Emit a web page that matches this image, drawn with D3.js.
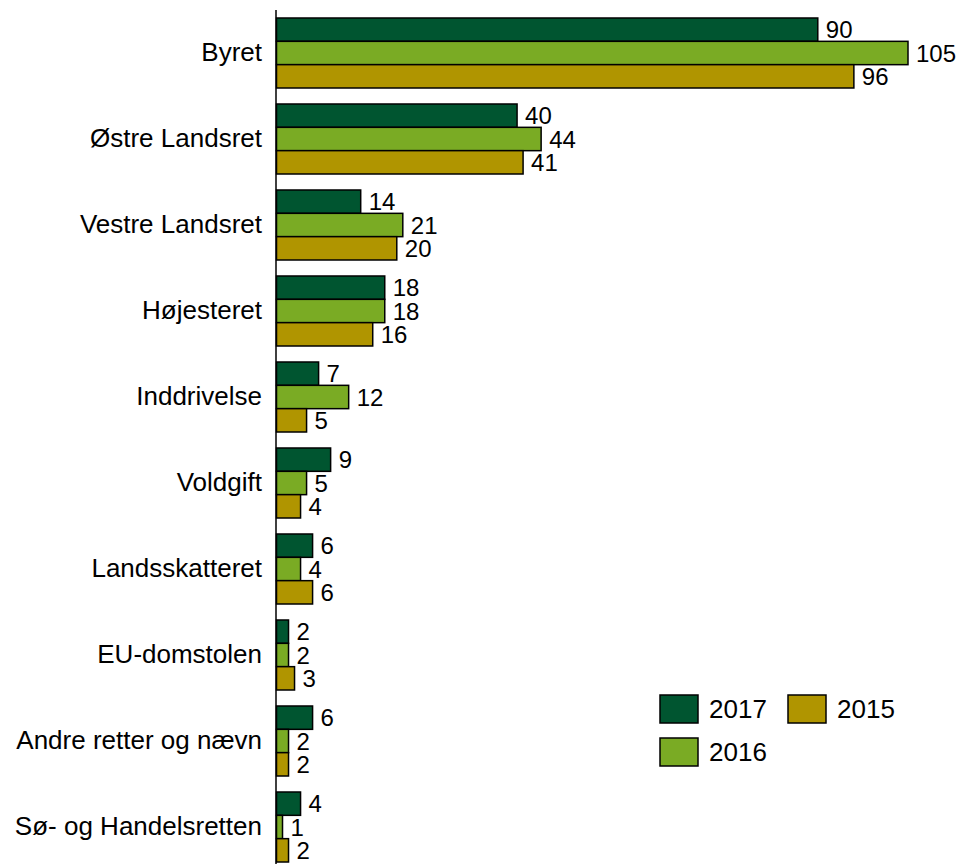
<!DOCTYPE html>
<html><head><meta charset="utf-8">
<script src="https://cdn.jsdelivr.net/npm/d3@7"></script>
<style>body{margin:0;background:#fff}svg{display:block}text{font-family:"Liberation Sans",Arial,sans-serif}</style>
</head><body><svg width="965" height="864"></svg>
<script>
const categories = ["Byret","Østre Landsret","Vestre Landsret","Højesteret","Inddrivelse","Voldgift","Landsskatteret","EU-domstolen","Andre retter og nævn","Sø- og Handelsretten"];
const seriesNames = ["2017","2016","2015"];
const values2017 = [90,40,14,18,7,9,6,2,6,4];
const values2016 = [105,44,21,18,12,5,4,2,2,1];
const values2015 = [96,41,20,16,5,4,6,3,2,2];
const colors = ["#005530","#7aab24","#b09500"];
const series = [values2017, values2016, values2015];

const svg = d3.select("svg");
const x = d3.scaleLinear().domain([0,105]).range([276.5,908]);
const y = d3.scaleBand().domain(categories).range([10,870]).paddingInner(0.186).paddingOuter(0.093);
const y1 = d3.scaleBand().domain(seriesNames).range([0,y.bandwidth()]);

const g = svg.append("g");
categories.forEach((c,i)=>{
  seriesNames.forEach((s,j)=>{
    const v = series[j][i];
    g.append("rect")
      .attr("x", x(0)).attr("y", y(c)+y1(s))
      .attr("width", x(v)-x(0)).attr("height", y1.bandwidth())
      .attr("fill", colors[j]).attr("stroke","#000").attr("stroke-width",1.5);
    g.append("text")
      .attr("x", x(v)+8).attr("y", y(c)+y1(s)+y1.bandwidth()/2)
      .attr("dy","0.36em").attr("font-size",24).attr("fill","#000").text(v);
  });
});

const axis = svg.append("g").attr("transform","translate(276,0)")
  .call(d3.axisLeft(y).tickSize(0).tickPadding(14));
axis.select(".domain").remove();
axis.selectAll("text").attr("font-size",26).attr("fill","#000").attr("font-family","Liberation Sans, Arial, sans-serif");
svg.append("line").attr("x1",276).attr("x2",276).attr("y1",10).attr("y2",864).attr("stroke","#000").attr("stroke-width",1.5);

const legendPos = [[660,695],[660,738],[788,695]];
seriesNames.forEach((s,j)=>{
  const [lx,ly] = legendPos[j];
  svg.append("rect").attr("x",lx).attr("y",ly).attr("width",38).attr("height",28)
    .attr("fill",colors[j]).attr("stroke","#000").attr("stroke-width",1.5);
  svg.append("text").attr("x",lx+49).attr("y",ly+14).attr("dy","0.36em")
    .attr("font-size",26).attr("fill","#000").text(s);
});
</script></body></html>
